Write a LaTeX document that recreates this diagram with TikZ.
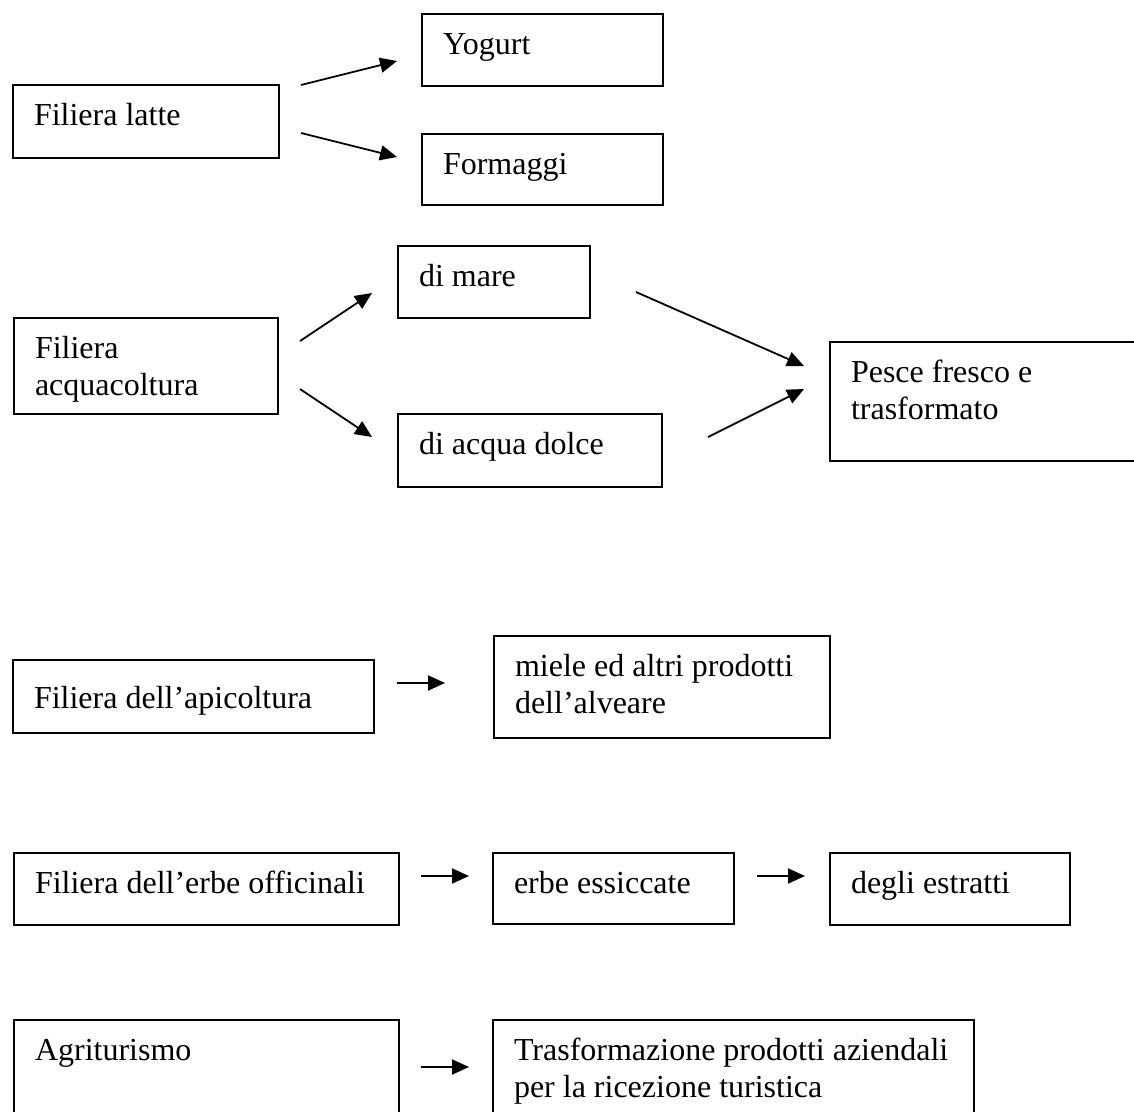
\documentclass[tikz,border=0pt]{standalone}
\usepackage{fontspec}
\setmainfont{Liberation Serif}[Ligatures=NoCommon]
\usetikzlibrary{arrows.meta}
\tikzset{
  bx/.style 2 args={draw, line width=2pt, anchor=north west, inner xsep=21pt, inner ysep=0pt,
    align=left, text width=#1pt-42pt, text height=40pt, text depth=#2pt-40pt,
    font=\fontsize{32}{37.5}\selectfont,
    execute at begin node={\spaceskip=0.25em plus 0.1em\relax\hyphenpenalty=10000\relax}},
  ar/.style={line width=1.8pt, -{Triangle[length=17pt,width=15pt]}}
}
\begin{document}
\begin{tikzpicture}[x=1pt,y=-1pt]
\clip (0,0) rectangle (1134,1111);
\fill[white] (0,0) rectangle (1134,1111);
% boxes
\node[bx={266}{73}] (latte) at (12,84) {Filiera latte};
\node[bx={241}{72}] (yog) at (421,13) {Yogurt};
\node[bx={241}{71}] (form) at (421,133) {Formaggi};
\node[bx={264}{96}] (acq) at (13,317) {Filiera\\acquacoltura};
\node[bx={192}{72}] (mare) at (397,245) {di mare};
\node[bx={264}{73}] (dolce) at (397,413) {di acqua dolce};
\node[bx={321}{119}] (pesce) at (829,341) {Pesce fresco e\\trasformato};
\node[bx={361}{73}, text height=48pt, text depth=25pt] (api) at (12,659) {Filiera dell’apicoltura};
\node[bx={336}{102}] (miele) at (493,635) {miele ed altri prodotti\\dell’alveare};
\node[bx={385}{72}] (erbe) at (13,852) {Filiera dell’erbe officinali};
\node[bx={241}{71}] (ess) at (492,852) {erbe essiccate};
\node[bx={240}{72}] (degli) at (829,852) {degli estratti};
\node[bx={385}{110}] (agri) at (13,1019) {Agriturismo};
\node[bx={481}{110}] (trasf) at (492,1019) {Trasformazione prodotti aziendali\\per la ricezione turistica};
% arrow end points
\coordinate (a1s) at (301,85);   \coordinate (a1e) at (397,61);
\coordinate (a2s) at (301,133);  \coordinate (a2e) at (397,157);
\coordinate (a3s) at (300,341);  \coordinate (a3e) at (372,293);
\coordinate (a4s) at (300,389);  \coordinate (a4e) at (372,437);
\coordinate (a5s) at (636,292);  \coordinate (a5e) at (804,366);
\coordinate (a6s) at (708,437);  \coordinate (a6e) at (804,389);
\coordinate (a7s) at (397,683);  \coordinate (a7e) at (445,683);
\coordinate (a8s) at (421,876);  \coordinate (a8e) at (469,876);
\coordinate (a9s) at (757,876);  \coordinate (a9e) at (805,876);
\coordinate (a10s) at (421,1067); \coordinate (a10e) at (469,1067);
\draw[ar] (a1s) -- (a1e);
\draw[ar] (a2s) -- (a2e);
\draw[ar] (a3s) -- (a3e);
\draw[ar] (a4s) -- (a4e);
\draw[ar] (a5s) -- (a5e);
\draw[ar] (a6s) -- (a6e);
\draw[ar] (a7s) -- (a7e);
\draw[ar] (a8s) -- (a8e);
\draw[ar] (a9s) -- (a9e);
\draw[ar] (a10s) -- (a10e);
\end{tikzpicture}
\end{document}
